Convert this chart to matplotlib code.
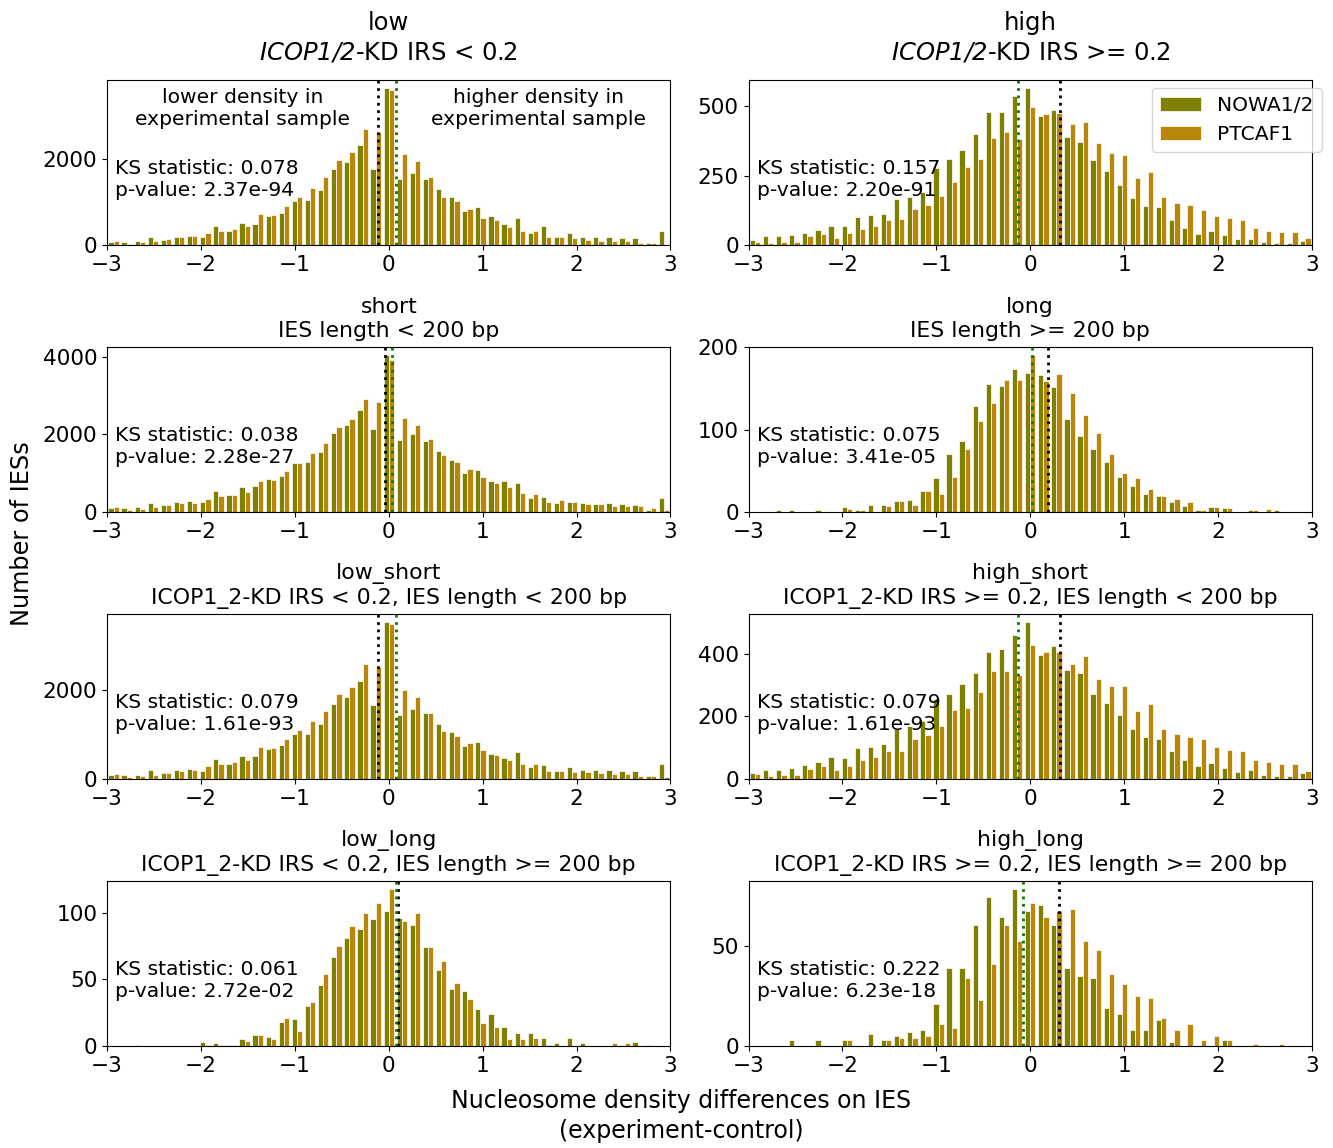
import numpy as np
import matplotlib.pyplot as plt

plt.rcParams['mathtext.fontset'] = 'custom'
plt.rcParams['mathtext.it'] = 'DejaVu Sans:italic'
plt.rcParams['mathtext.rm'] = 'DejaVu Sans:italic'

# 43 equal bins on [-3, 3], same for every panel
bin_edges = np.linspace(-3, 3, 44)
bin_centres = (bin_edges[:-1] + bin_edges[1:]) / 2

# counts per bin (NOWA1/2 = nowa, PTCAF1 = ptcaf)
low_nowa = [63, 71, 86, 196, 118, 180, 212, 180, 431, 337, 517, 494, 666, 745, 1011, 1043, 1278, 1764, 1921, 2313, 1756,
            3650, 1537, 1670, 1544, 1294, 1105, 784, 886, 666, 478, 627, 274, 450, 180, 290, 196, 180, 196, 172, 165, 47, 329]
low_ptcaf = [102, 24, 63, 102, 141, 180, 204, 274, 337, 361, 431, 713, 690, 909, 1105, 1333, 1584, 1984, 2156, 2689, 2618,
             3606, 2117, 1960, 1576, 1121, 1019, 847, 627, 572, 416, 337, 329, 180, 180, 157, 118, 102, 86, 86, 55, 39, 24]

high_nowa = [18, 31, 31, 37, 44, 54, 70, 70, 100, 107, 112, 167, 174, 192, 278, 311, 343, 399, 479, 479, 538,
             567, 467, 486, 388, 373, 305, 266, 216, 168, 142, 138, 89, 61, 40, 50, 37, 21, 23, 12, 6, 7, 16]
high_ptcaf = [12, 9, 12, 12, 31, 41, 27, 44, 56, 70, 89, 94, 129, 143, 178, 226, 280, 311, 386, 406, 384,
              498, 473, 476, 437, 445, 367, 333, 323, 242, 262, 172, 153, 146, 128, 105, 98, 89, 63, 52, 46, 46, 24]

short_nowa = [104, 113, 130, 225, 182, 251, 294, 251, 546, 450, 632, 658, 849, 935, 1264, 1299, 1541, 2026, 2252, 2641, 2130,
              4053, 1853, 2000, 1827, 1585, 1334, 1005, 1083, 805, 805, 745, 364, 390, 225, 268, 225, 208, 225, 216, 182, 61, 355]
short_ptcaf = [130, 43, 78, 130, 191, 225, 234, 329, 416, 450, 520, 805, 831, 1048, 1264, 1524, 1767, 2200, 2407, 2927, 2849,
               3931, 2433, 2252, 1871, 1464, 1299, 1117, 909, 736, 650, 485, 476, 268, 312, 251, 208, 208, 165, 156, 165, 95, 61]

long_nowa = [0, 0, 2, 3, 0, 3, 0, 6, 3, 8, 8, 13, 14, 26, 41, 70, 86, 129, 156, 153, 174,
             169, 167, 152, 113, 92, 77, 61, 43, 32, 22, 20, 12, 7, 3, 6, 5, 0, 2, 0, 3, 0, 0]
long_ptcaf = [0, 0, 0, 0, 0, 0, 0, 4, 2, 0, 7, 13, 9, 26, 22, 42, 77, 110, 132, 161, 160,
              191, 159, 168, 145, 118, 96, 71, 48, 41, 28, 19, 16, 12, 3, 6, 5, 0, 2, 4, 0, 0, 0]

low_short_nowa = [83, 83, 99, 197, 129, 197, 227, 190, 440, 349, 523, 508, 675, 770, 1008, 1023, 1251, 1698, 1842, 2221, 1660,
                  3547, 1455, 1577, 1478, 1243, 1054, 743, 834, 561, 478, 614, 273, 326, 190, 280, 197, 197, 212, 174, 174, 61, 334]
low_short_ptcaf = [114, 38, 68, 91, 144, 182, 212, 288, 341, 379, 424, 720, 705, 910, 1099, 1311, 1539, 1918, 2069, 2585, 2517,
                   3487, 2016, 1857, 1493, 1091, 963, 811, 644, 546, 424, 334, 334, 190, 190, 167, 167, 129, 114, 106, 68, 61, 38]

high_short_nowa = [18, 30, 30, 34, 45, 53, 70, 68, 99, 102, 111, 161, 169, 185, 255, 272, 303, 338, 406, 416, 461,
                   502, 397, 426, 349, 339, 273, 244, 203, 161, 135, 128, 88, 62, 42, 52, 35, 23, 28, 14, 9, 9, 19]
high_short_ptcaf = [15, 9, 14, 14, 32, 42, 28, 43, 60, 70, 88, 90, 127, 140, 169, 219, 228, 277, 346, 346, 332,
                    427, 407, 405, 367, 392, 319, 298, 296, 217, 239, 160, 144, 135, 127, 102, 94, 90, 62, 53, 47, 47, 26]

low_long_nowa = [0, 0, 1, 0, 0, 0, 0, 3, 2, 1, 5, 8, 7, 18, 20, 30, 46, 67, 81, 88, 95,
                 101, 96, 91, 74, 57, 43, 41, 28, 24, 14, 10, 10, 6, 2, 6, 2, 0, 0, 1, 3, 1, 0]
low_long_ptcaf = [0, 0, 0, 0, 0, 0, 0, 1, 1, 1, 4, 8, 5, 21, 11, 33, 54, 75, 90, 100, 107,
                  118, 94, 100, 74, 64, 47, 35, 17, 14, 5, 5, 6, 1, 0, 1, 0, 0, 2, 2, 0, 0, 0]

high_long_nowa = [0, 0, 0, 3, 0, 3, 0, 3, 0, 6, 3, 5, 7, 8, 21, 39, 39, 61, 75, 65, 79,
                  68, 71, 61, 39, 35, 34, 19, 16, 8, 8, 13, 2, 0, 0, 0, 3, 0, 0, 0, 0, 0, 0]
high_long_ptcaf = [0, 0, 0, 0, 0, 0, 0, 3, 0, 0, 3, 4, 4, 5, 11, 9, 34, 23, 41, 61, 53,
                   72, 65, 68, 69, 53, 48, 36, 31, 25, 24, 14, 8, 11, 3, 5, 3, 0, 1, 0, 1, 0, 0]

panel_titles = ['low\n$ICOP1/2$-KD IRS < 0.2', 'high\n$ICOP1/2$-KD IRS >= 0.2',
                'short\nIES length < 200 bp', 'long\nIES length >= 200 bp',
                'low_short\nICOP1_2-KD IRS < 0.2, IES length < 200 bp',
                'high_short\nICOP1_2-KD IRS >= 0.2, IES length < 200 bp',
                'low_long\nICOP1_2-KD IRS < 0.2, IES length >= 200 bp',
                'high_long\nICOP1_2-KD IRS >= 0.2, IES length >= 200 bp']
ks_stat = ['0.078', '0.157', '0.038', '0.075', '0.079', '0.079', '0.061', '0.222']
p_value = ['2.37e-94', '2.20e-91', '2.28e-27', '3.41e-05', '1.61e-93', '1.61e-93', '2.72e-02', '6.23e-18']
# medians of the two samples (dotted lines)
median_nowa = [0.078, -0.125, 0.039, 0.014, 0.078, -0.129, 0.078, -0.074]
median_ptcaf = [-0.113, 0.316, -0.035, 0.186, -0.113, 0.316, 0.102, 0.305]
y_ticks = [[0, 2000], [0, 250, 500], [0, 2000, 4000], [0, 100, 200],
           [0, 2000], [0, 200, 400], [0, 50, 100], [0, 50]]

counts = [(low_nowa, low_ptcaf), (high_nowa, high_ptcaf), (short_nowa, short_ptcaf), (long_nowa, long_ptcaf),
          (low_short_nowa, low_short_ptcaf), (high_short_nowa, high_short_ptcaf),
          (low_long_nowa, low_long_ptcaf), (high_long_nowa, high_long_ptcaf)]

olive = '#808000'
gold = '#b8860b'

fig, axes = plt.subplots(4, 2, figsize=(13.33, 11.48), dpi=100)
fig.subplots_adjust(left=0.0803, right=0.9842, top=0.9303, bottom=0.0889, wspace=0.1385, hspace=0.618)

for i, ax in enumerate(axes.flat):
    nowa, ptcaf = counts[i]
    ax.hist([bin_centres, bin_centres], bins=bin_edges, weights=[nowa, ptcaf],
            color=[olive, gold], label=['NOWA1/2', 'PTCAF1'], edgecolor='white', linewidth=0.5)
    ax.axvline(median_ptcaf[i], color='black', linestyle=':', linewidth=2)
    ax.axvline(median_nowa[i], color='green', linestyle=':', linewidth=2)
    ax.set_xlim(-3, 3)
    ax.set_xticks([-3, -2, -1, 0, 1, 2, 3])
    ax.set_yticks(y_ticks[i])
    ax.tick_params(labelsize=15.6)
    if i < 2:
        ax.set_title(panel_titles[i], fontsize=17.5, linespacing=1.32, pad=14.5)
    else:
        ax.set_title(panel_titles[i], fontsize=15.8, linespacing=1.27, pad=7)
    ax.text(0.015, 0.52, 'KS statistic: ' + ks_stat[i] + '\np-value: ' + p_value[i],
            transform=ax.transAxes, fontsize=14.6, va='top', ha='left')

axes[0, 0].text(0.24, 0.95, 'lower density in\nexperimental sample', transform=axes[0, 0].transAxes,
                fontsize=14.6, ha='center', va='top')
axes[0, 0].text(0.765, 0.95, 'higher density in\nexperimental sample', transform=axes[0, 0].transAxes,
                fontsize=14.6, ha='center', va='top')
axes[0, 1].legend(loc='upper right', bbox_to_anchor=(1.035, 1.015), fontsize=14.6)

fig.text(0.0165, 0.535, 'Number of IESs', rotation=90, ha='center', va='center', fontsize=17.3)
fig.text(0.511, 0.028, 'Nucleosome density differences on IES\n(experiment-control)', ha='center', va='center',
         fontsize=17, linespacing=1.35)

fig.savefig('out.png', dpi=100)
